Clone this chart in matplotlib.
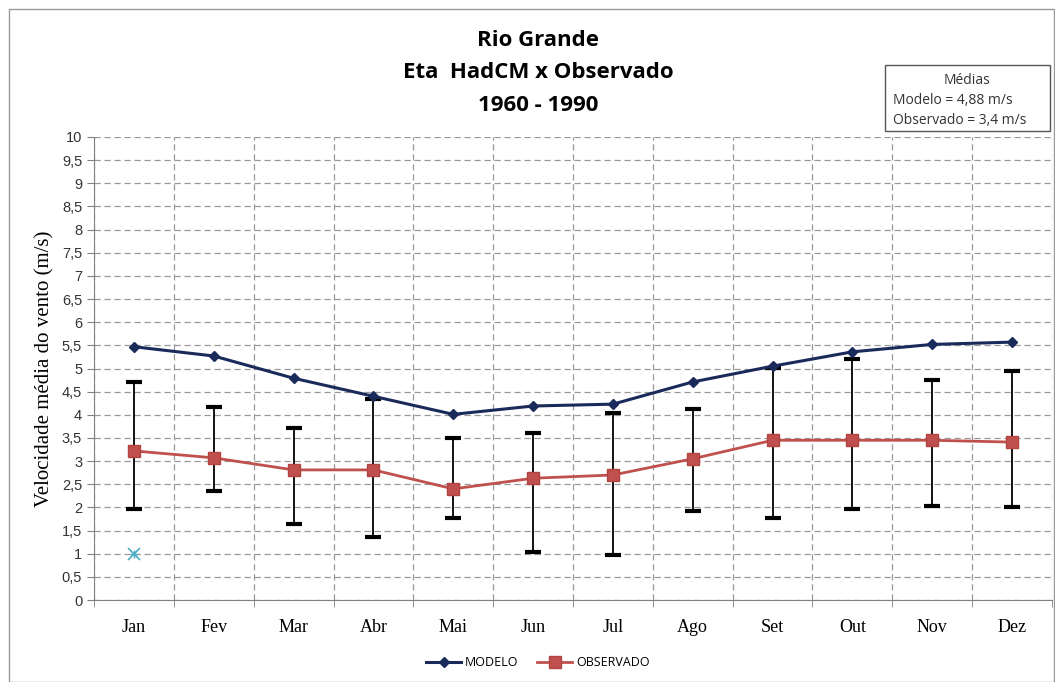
import matplotlib.pyplot as plt
import matplotlib.patches as patches
import numpy as np

# monthly mean wind speed, Rio Grande, model vs observed
meses = ["Jan", "Fev", "Mar", "Abr", "Mai", "Jun", "Jul", "Ago", "Set", "Out", "Nov", "Dez"]
modelo = [5.47, 5.27, 4.79, 4.40, 4.01, 4.19, 4.23, 4.71, 5.05, 5.36, 5.52, 5.57]
observado = [3.22, 3.07, 2.81, 2.81, 2.40, 2.63, 2.70, 3.05, 3.45, 3.45, 3.45, 3.41]
obs_max = [4.71, 4.17, 3.71, 4.34, 3.50, 3.61, 4.04, 4.12, 5.01, 5.20, 4.75, 4.95]
obs_min = [1.97, 2.35, 1.64, 1.36, 1.77, 1.04, 0.97, 1.92, 1.77, 1.97, 2.03, 2.01]
extra_x = [0]
extra_y = [1.0]
yticks = np.arange(0, 10.01, 0.5)

fig = plt.figure(figsize=(10.55, 6.82), dpi=100)
ax = fig.add_axes([94 / 1055, 82 / 682, 958 / 1055, 463 / 682])

x = np.arange(len(meses))
err = [np.array(observado) - np.array(obs_min), np.array(obs_max) - np.array(observado)]
ax.errorbar(x, observado, yerr=err, fmt="none", ecolor="black", elinewidth=1.3,
            capsize=6, capthick=3, zorder=2)
ax.plot(x, modelo, color="#1a2a5a", lw=2.2, marker="D", ms=5.5, mfc="#1a2a5a", label="MODELO", zorder=3)
ax.plot(x, observado, color="#c0504d", lw=2.0, marker="s", ms=8, mfc="#c0504d",
        mec="#b04440", label="OBSERVADO", zorder=3)
ax.plot(extra_x, extra_y, ls="none", marker="x", ms=8, color="#4bacc6", mew=1.2, zorder=3)
ax.plot(extra_x, extra_y, ls="none", marker="+", ms=6, color="#4bacc6", mew=1.0, zorder=3)

ax.set_xlim(-0.5, len(meses) - 0.5)
ax.set_ylim(0, 10)
ax.set_yticks(yticks)
ax.set_yticklabels([f"{v:g}".replace(".", ",") for v in yticks], fontsize=10.5,
                   family="Liberation Sans", color="#333333")
ax.set_xticks(x)
ax.set_xticklabels(meses, fontsize=13, family="Liberation Serif")
ax.set_xticks(np.arange(-0.5, len(meses), 1), minor=True)
ax.tick_params(axis="x", which="major", length=0, pad=14)
ax.tick_params(axis="x", which="minor", length=5, color="#808080")
ax.tick_params(axis="y", length=5, color="#808080")
ax.yaxis.grid(True, ls=(0, (5, 3)), color="#999999", lw=0.9)
ax.xaxis.grid(True, which="minor", ls=(0, (5, 3)), color="#999999", lw=0.9)
ax.set_axisbelow(True)
for s in ["top", "right"]:
    ax.spines[s].set_visible(False)
ax.spines["left"].set_color("#808080")
ax.spines["bottom"].set_color("#808080")
ax.set_ylabel("Velocidade média do vento (m/s)", fontsize=15, family="Liberation Serif", labelpad=5)

# titles
fig.text(0.510, 0.941, "Rio Grande", ha="center", va="center", fontsize=16, fontweight="bold", family="Open Sans")
fig.text(0.510, 0.893, "Eta  HadCM x Observado", ha="center", va="center", fontsize=16, fontweight="bold", family="Open Sans")
fig.text(0.510, 0.845, "1960 - 1990", ha="center", va="center", fontsize=16, fontweight="bold", family="Open Sans")

# box with averages
box = patches.Rectangle((885 / 1055, 1 - 131 / 682), 165 / 1055, 66 / 682, transform=fig.transFigure,
                        fill=True, fc="white", ec="#555555", lw=1)
fig.patches.append(box)
fig.text(967 / 1055, 1 - 80 / 682, "Médias", ha="center", va="center", fontsize=10, family="Open Sans", color="#333333")
fig.text(893 / 1055, 1 - 100 / 682, "Modelo = 4,88 m/s", ha="left", va="center", fontsize=10, family="Open Sans", color="#333333")
fig.text(893 / 1055, 1 - 120 / 682, "Observado = 3,4 m/s", ha="left", va="center", fontsize=10, family="Open Sans", color="#333333")

# outer chart border
border = patches.Rectangle((9 / 1055, 0), 1045 / 1055, 673 / 682, transform=fig.transFigure,
                           fill=False, ec="#999999", lw=1)
fig.patches.append(border)

fig.legend(loc="center", bbox_to_anchor=(0.51, 1 - 663 / 682), ncol=2, frameon=False,
           prop={"family": "Open Sans", "size": 9}, handlelength=2.8, columnspacing=1.5,
           handletextpad=0.3)

fig.savefig("out.png", dpi=100)
